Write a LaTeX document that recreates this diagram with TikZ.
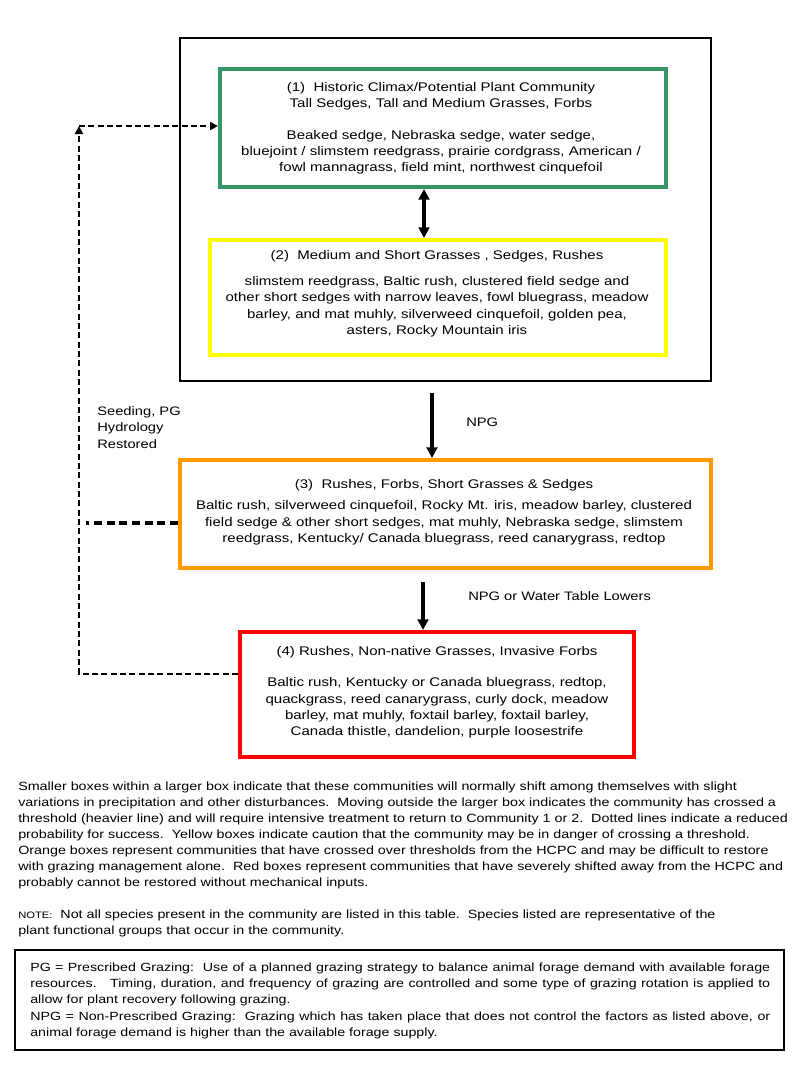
\documentclass[tikz,border=0pt]{standalone}
\usepackage{fontspec}
\setmainfont{Liberation Sans}
\newfontfamily\wide[FakeStretch=1.2]{Liberation Sans}
\usetikzlibrary{fit,arrows.meta}
\definecolor{cgreen}{RGB}{52,150,102}
\definecolor{cyellow}{RGB}{255,255,0}
\definecolor{corange}{RGB}{255,153,0}
\definecolor{cred}{RGB}{255,0,0}
\begin{document}
\begin{tikzpicture}[x=0.75pt,y=-0.75pt,
  cbox/.style={inner sep=0pt, line width=3pt},
  obox/.style={inner sep=0pt, line width=1.8pt, draw=black},
  txt/.style={font=\wide\fontsize{9.4}{12.2}\selectfont, align=center, inner sep=0pt, anchor=north},
  ltxt/.style={font=\wide\fontsize{9.2}{12.6}\selectfont, align=left, inner sep=0pt, anchor=north west},
  ptxt/.style={font=\wide\fontsize{8.95}{12}\selectfont, align=left, inner sep=0pt, anchor=north west},
  solidarrow/.style={line width=2.6pt, -{Triangle[length=8pt,width=8pt]}},
  dualarrow/.style={line width=3pt, {Triangle[length=8pt,width=8pt]}-{Triangle[length=8pt,width=8pt]}},
  dashline/.style={line width=1.5pt, dash pattern=on 4.5pt off 2.5pt},
  dasharrow/.style={dashline, -{Triangle[length=6pt,width=6pt]}},
  thickdash/.style={line width=3pt, dash pattern=on 6pt off 3.5pt}]
\useasboundingbox (0,0) rectangle (800,1083);
\fill[white] (0,0) rectangle (800,1083);

% outer threshold box
\node[obox, fit={(180,38)(711,381)}] (outer) {};

% community boxes
\node[cbox, draw=cgreen, fit={(220,69)(666,187)}] (b1) {};
\node[cbox, draw=cyellow, fit={(210,240)(666,355)}] (b2) {};
\node[cbox, draw=corange, fit={(180,460)(711,568)}] (b3) {};
\node[cbox, draw=cred, fit={(240,632)(634,757)}] (b4) {};

% box texts
\node[txt] (t1) at (441,82) {(1)\ \ Historic Climax/Potential Plant Community\\
Tall Sedges, Tall and Medium Grasses, Forbs\\[11.5pt]
Beaked sedge, Nebraska sedge, water sedge,\\
bluejoint / slimstem reedgrass, prairie cordgrass, American /\\
fowl mannagrass, field mint, northwest cinquefoil};

\node[txt] (t2) at (437,250) {(2)\ \ Medium and Short Grasses , Sedges, Rushes\\[7.5pt]
slimstem reedgrass, Baltic rush, clustered field sedge and\\
other short sedges with narrow leaves, fowl bluegrass, meadow\\
barley, and mat muhly, silverweed cinquefoil, golden pea,\\
asters, Rocky Mountain iris};

\node[txt] (t3) at (444,479.5) {(3)\ \ Rushes, Forbs, Short Grasses \& Sedges\\[3.5pt]
Baltic rush, silverweed cinquefoil, Rocky Mt. iris, meadow barley, clustered\\
field sedge \& other short sedges, mat muhly, Nebraska sedge, slimstem\\
reedgrass, Kentucky/ Canada bluegrass, reed canarygrass, redtop};

\node[txt] (t4) at (437,646.5) {(4) Rushes, Non-native Grasses, Invasive Forbs\\[11pt]
Baltic rush, Kentucky or Canada bluegrass, redtop,\\
quackgrass, reed canarygrass, curly dock, meadow\\
barley, mat muhly, foxtail barley, foxtail barley,\\
Canada thistle, dandelion, purple loosestrife};

% connectors
\draw[dualarrow] (424,0 |- b1.south) -- (424,0 |- b2.north);
\draw[solidarrow] (432,0 |- outer.south) ++(0,11) coordinate (n1) -- (432,0 |- b3.north);
\draw[solidarrow] (423,582) coordinate (n2) -- (423,0 |- b4.north);

\node[ltxt] (l1) at (466,418) {NPG};
\node[ltxt] (l2) at (468,591) {NPG or Water Table Lowers};
\node[ltxt] (l3) at (97,406) {Seeding, PG\\Hydrology\\Restored};

\coordinate (c1) at (79,674);
\coordinate (c2) at (79,126);
\coordinate (c3) at (86,523);
\draw[dasharrow] (b4.west |- c1) -- (c1) -- (c2);
\draw[dasharrow] (c2) -- (b1.west |- c2);
\draw[thickdash] (b3.west |- c3) -- (c3);

% explanatory paragraph
\node[ptxt] (p1) at (18,781.5) {Smaller boxes within a larger box indicate that these communities will normally shift among themselves with slight\\
variations in precipitation and other disturbances.\ \ Moving outside the larger box indicates the community has crossed a\\
threshold (heavier line) and will require intensive treatment to return to Community 1 or 2.\ \ Dotted lines indicate a reduced\\
probability for success.\ \ Yellow boxes indicate caution that the community may be in danger of crossing a threshold.\\
Orange boxes represent communities that have crossed over thresholds from the HCPC and may be difficult to restore\\
with grazing management alone.\ \ Red boxes represent communities that have severely shifted away from the HCPC and\\
probably cannot be restored without mechanical inputs.};

\node[ptxt] (p2) at (18,909.5) {{\fontsize{7}{12}\selectfont NOTE:}\ \ Not all species present in the community are listed in this table.\ \ Species listed are representative of the\\
plant functional groups that occur in the community.};

% definitions box
\node[obox, line width=1.1pt, fit={(15,950)(784,1050)}] (defs) {};
\node[inner sep=0pt, anchor=north west, font=\wide\fontsize{8.9}{12}\selectfont, text width=555pt, align=justify] (d1) at (30,962.5) {PG = Prescribed Grazing:\ \ Use of a planned grazing strategy to balance animal forage demand with available forage\linebreak
resources.\ \ \ Timing, duration, and frequency of grazing are controlled and some type of grazing rotation is applied to\linebreak
allow for plant recovery following grazing.\par\vspace{1pt}
NPG = Non-Prescribed Grazing:\ \ Grazing which has taken place that does not control the factors as listed above, or\linebreak
animal forage demand is higher than the available forage supply.};
\end{tikzpicture}
\end{document}
